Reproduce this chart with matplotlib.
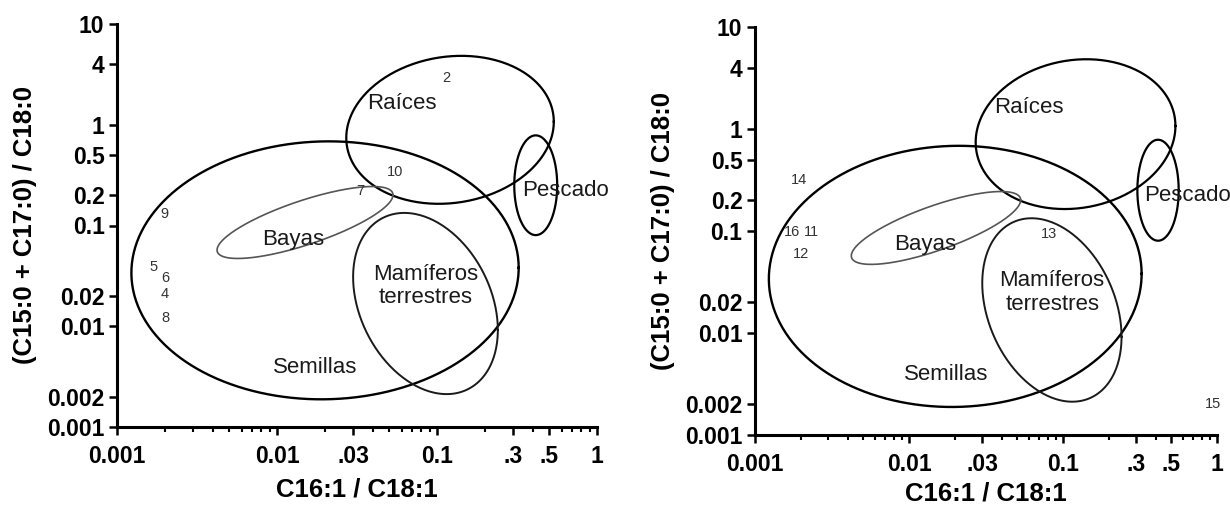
import numpy as np
import matplotlib
matplotlib.use("Agg")
import matplotlib.pyplot as plt
from matplotlib.ticker import FixedLocator, LogLocator, NullLocator, NullFormatter

plt.rcParams["font.family"] = ["Liberation Sans", "DejaVu Sans"]

# group ellipses: leftmost point, rightmost point (data units), half vertical chord at centre (decades)
group_names = ["Raíces", "Pescado", "Semillas", "Bayas", "Mamíferos"]
ell_left = [(0.0271, 0.741), (0.304, 0.251), (0.00123, 0.0339), (0.00422, 0.0571), (0.0299, 0.0308)]
ell_right = [(0.537, 1.07), (0.564, 0.251), (0.324, 0.038), (0.0531, 0.201), (0.240, 0.00918)]
ell_half_v = [0.73, 0.495, 1.28, 0.23, 0.86]

# group label positions
label_text = ["Raíces", "Pescado", "Bayas", "Mamíferos\nterrestres", "Semillas"]
label_x = [0.06, 0.64, 0.0127, 0.085, 0.0174]
label_y = [1.62, 0.224, 0.073, 0.025, 0.0039]

# samples, left panel
left_ids = ["2", "10", "7", "9", "5", "6", "4", "8"]
left_x = [0.115, 0.0545, 0.033, 0.00197, 0.0017, 0.002, 0.002, 0.002]
left_y = [2.9, 0.34, 0.218, 0.131, 0.039, 0.030, 0.0207, 0.0122]

# samples, right panel
right_ids = ["14", "16", "11", "12", "13", "15"]
right_x = [0.00193, 0.00173, 0.00231, 0.0020, 0.081, 0.94]
right_y = [0.315, 0.0985, 0.0985, 0.059, 0.093, 0.002]

xticks = [0.001, 0.01, 0.03, 0.1, 0.3, 0.5, 1]
xticklabels = ["0.001", "0.01", ".03", "0.1", ".3", ".5", "1"]
yticks = [10, 4, 1, 0.5, 0.2, 0.1, 0.02, 0.01, 0.002, 0.001]
yticklabels = ["10", "4", "1", "0.5", "0.2", "0.1", "0.02", "0.01", "0.002", "0.001"]

ell_colors = ["black", "black", "black", "#555555", "#1a1a1a"]
ell_widths = [1.6, 1.6, 1.7, 1.2, 1.4]


def ellipse_curve(left, right, half_v):
    lx0, ly0 = np.log10(left)
    lx1, ly1 = np.log10(right)
    cx, cy = (lx0 + lx1) / 2, (ly0 + ly1) / 2
    ux, uy = (lx1 - lx0) / 2, (ly1 - ly0) / 2
    t = np.linspace(0, 2 * np.pi, 300)
    lx = cx + ux * np.cos(t)
    ly = cy + uy * np.cos(t) + half_v * np.sin(t)
    return 10 ** lx, 10 ** ly


def draw_panel(ax, ids, xs, ys, xlabelpad):
    for i in range(len(group_names)):
        ex, ey = ellipse_curve(ell_left[i], ell_right[i], ell_half_v[i])
        ax.plot(ex, ey, color=ell_colors[i], lw=ell_widths[i], clip_on=False)

    for txt, x, y in zip(label_text, label_x, label_y):
        ax.text(x, y, txt, fontsize=16, ha="center", va="center",
                color="#1a1a1a", linespacing=1.15)

    for s, x, y in zip(ids, xs, ys):
        ax.text(x, y, s, fontsize=10.5, ha="center", va="center", color="#333333")

    ax.set_xscale("log")
    ax.set_yscale("log")
    ax.set_xlim(0.001, 1)
    ax.set_ylim(0.001, 10)

    ax.xaxis.set_major_locator(FixedLocator(xticks))
    ax.set_xticklabels(xticklabels)
    ax.xaxis.set_minor_locator(LogLocator(base=10, subs=np.arange(2, 10)))
    ax.xaxis.set_minor_formatter(NullFormatter())
    ax.yaxis.set_major_locator(FixedLocator(yticks))
    ax.set_yticklabels(yticklabels)
    ax.yaxis.set_minor_locator(NullLocator())

    for side in ["top", "right"]:
        ax.spines[side].set_visible(False)
    for side in ["left", "bottom"]:
        ax.spines[side].set_linewidth(2.2)

    ax.tick_params(which="major", direction="out", length=6, width=1.8,
                   labelsize=16.5, pad=3)
    ax.tick_params(axis="x", which="major", pad=7)
    ax.tick_params(which="minor", direction="out", length=3.5, width=1.5)
    for lab in ax.get_xticklabels() + ax.get_yticklabels():
        lab.set_fontweight("bold")

    ax.set_xlabel("C16:1 / C18:1", fontsize=18.5, fontweight="bold", labelpad=xlabelpad)
    ax.set_ylabel("(C15:0 + C17:0) / C18:0", fontsize=18.5, fontweight="bold", labelpad=7)


fig = plt.figure(figsize=(12.3, 5.07), dpi=100)
ax1 = fig.add_axes([117 / 1230, 1 - 427 / 507, 480 / 1230, 403 / 507])
ax2 = fig.add_axes([755 / 1230, 1 - 435 / 507, 462 / 1230, 408 / 507])

draw_panel(ax1, left_ids, left_x, left_y, 7)
draw_panel(ax2, right_ids, right_x, right_y, 4)

fig.savefig("out.png", dpi=100)
